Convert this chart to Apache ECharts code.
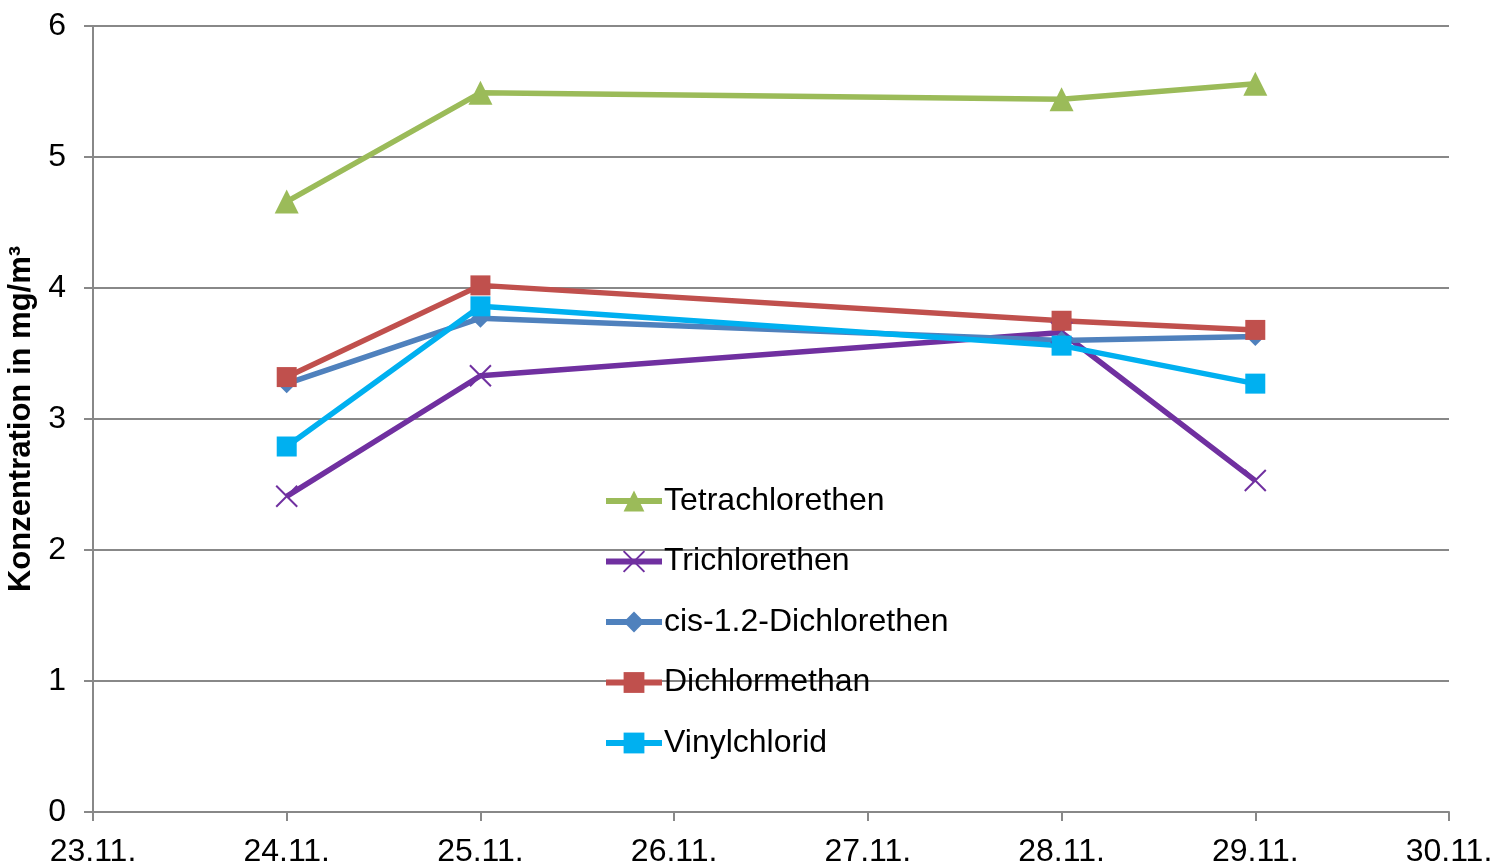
<!DOCTYPE html>
<html>
<head>
<meta charset="utf-8">
<script src="https://cdn.jsdelivr.net/npm/echarts@6/dist/echarts.min.js"></script>
<style>
  html, body { margin: 0; padding: 0; background: #fff; }
  #chart { width: 1495px; height: 863px; }
</style>
</head>
<body>
<div id="chart"></div>
<script>
// Dates on the x axis (one tick per day)
const dates = ['23.11.', '24.11.', '25.11.', '26.11.', '27.11.', '28.11.', '29.11.', '30.11.']

// Measured values (mg/m³); null where there was no measurement
const tetrachlorethen = [null, 4.66, 5.49, null, null, 5.44, 5.56, null]
const trichlorethen = [null, 2.41, 3.33, null, null, 3.66, 2.53, null]
const cisDichlorethen = [null, 3.27, 3.77, null, null, 3.60, 3.63, null]
const dichlormethan = [null, 3.32, 4.02, null, null, 3.75, 3.68, null]
const vinylchlorid = [null, 2.79, 3.86, null, null, 3.56, 3.27, null]

const font = '"Liberation Sans", Arial, sans-serif'
const crossPath = 'path://M0,0L10,10M10,0L0,10'

function makeSeries(name, data, color, symbol, symbolSize, extraItemStyle) {
  return {
    name,
    type: 'line',
    data,
    connectNulls: true,
    symbol,
    symbolSize,
    showAllSymbol: true,
    lineStyle: { color, width: 5.5 },
    itemStyle: Object.assign({ color }, extraItemStyle || {}),
    emphasis: { disabled: true }
  }
}

const chart = echarts.init(document.getElementById('chart'))

const option = {
  animation: false,
  backgroundColor: '#fff',
  grid: {
    left: 93,
    right: 46,
    top: 26,
    bottom: 51,
    containLabel: false,
    outerBoundsMode: 'none'
  },
  legend: {
    orient: 'vertical',
    left: 598,
    top: 480,
    itemWidth: 56,
    itemHeight: 26,
    itemGap: 28.5,
    lineStyle: { width: 6 },
    textStyle: {
      fontFamily: font,
      fontSize: 32,
      color: '#000',
      lineHeight: 30,
      padding: [0, 0, 0, -3]
    },
    data: ['Tetrachlorethen', 'Trichlorethen', 'cis-1.2-Dichlorethen', 'Dichlormethan', 'Vinylchlorid']
  },
  xAxis: {
    type: 'category',
    data: dates,
    boundaryGap: false,
    axisLine: { lineStyle: { color: '#888', width: 2 } },
    axisTick: { show: true, length: 9, lineStyle: { color: '#888', width: 2 }, alignWithLabel: true },
    axisLabel: {
      fontFamily: font,
      fontSize: 32,
      color: '#000',
      margin: 24,
      interval: 0
    },
    splitLine: { show: false }
  },
  yAxis: {
    type: 'value',
    min: 0,
    max: 6,
    interval: 1,
    name: 'Konzentration in mg/m³',
    nameLocation: 'middle',
    nameGap: 51,
    nameTextStyle: {
      fontFamily: font,
      fontSize: 31,
      fontWeight: 'bold',
      color: '#000'
    },
    axisLine: { show: true, lineStyle: { color: '#888', width: 2 } },
    axisTick: { show: true, length: 9, lineStyle: { color: '#888', width: 2 } },
    axisLabel: {
      fontFamily: font,
      fontSize: 32,
      color: '#000',
      margin: 27
    },
    splitLine: { lineStyle: { color: '#888', width: 2 } }
  },
  series: [
    makeSeries('Tetrachlorethen', tetrachlorethen, '#9BBB59', 'triangle', 24),
    makeSeries('Trichlorethen', trichlorethen, '#7030A0', crossPath, 21, { borderColor: '#7030A0', borderWidth: 2 }),
    makeSeries('cis-1.2-Dichlorethen', cisDichlorethen, '#4F81BD', 'diamond', 19),
    makeSeries('Dichlormethan', dichlormethan, '#C0504D', 'rect', 20),
    makeSeries('Vinylchlorid', vinylchlorid, '#00B0F0', 'rect', 20)
  ]
}

chart.setOption(option)

window.addEventListener('resize', () => chart.resize())
</script>
</body>
</html>
